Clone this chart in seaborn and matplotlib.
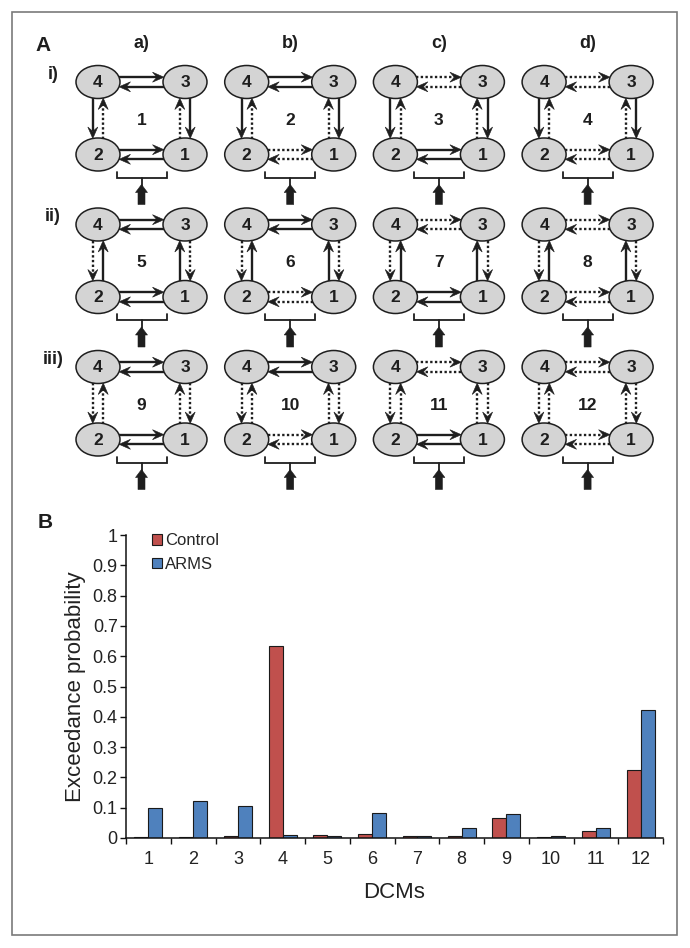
import numpy as np
import pandas as pd
import matplotlib
matplotlib.use('Agg')
import matplotlib.pyplot as plt
from matplotlib.patches import Ellipse, Polygon, Rectangle, Patch
import seaborn as sns

# ---------------- data ----------------
dcm_labels = ['1', '2', '3', '4', '5', '6', '7', '8', '9', '10', '11', '12']
control_ep = [0.003, 0.004, 0.007, 0.634, 0.009, 0.012, 0.008, 0.006, 0.065, 0.002, 0.024, 0.224]
arms_ep = [0.098, 0.123, 0.105, 0.010, 0.006, 0.082, 0.007, 0.034, 0.078, 0.006, 0.033, 0.422]
group_names = ['Control', 'ARMS']
group_colors = ['#C0504D', '#4F81BD']
y_ticks = [0, 0.1, 0.2, 0.3, 0.4, 0.5, 0.6, 0.7, 0.8, 0.9, 1.0]
y_tick_labels = ['0', '0.1', '0.2', '0.3', '0.4', '0.5', '0.6', '0.7', '0.8', '0.9', '1']

column_labels = ['a)', 'b)', 'c)', 'd)']
row_labels = ['i)', 'ii)', 'iii)']
# connection styles of the 12 DCMs: horizontal pairs vary by column, vertical pairs by row
top_pair_style = ['solid', 'solid', 'dotted', 'dotted']        # 4 <-> 3
bottom_pair_style = ['solid', 'dotted', 'solid', 'dotted']     # 2 <-> 1
down_style = ['solid', 'dotted', 'dotted']                     # 4 -> 2, 3 -> 1
up_style = ['dotted', 'solid', 'dotted']                       # 2 -> 4, 1 -> 3

# ---------------- style ----------------
sns.set_style('white')
plt.rcParams['font.family'] = ['Liberation Sans', 'DejaVu Sans']

W, H = 690, 948
fig = plt.figure(figsize=(W / 100, H / 100), dpi=100)

# overlay axes in pixel coordinates for panel A
ov = fig.add_axes([0, 0, 1, 1])
ov.set_xlim(0, W)
ov.set_ylim(H, 0)
ov.axis('off')

ink = '#1e1e1e'
ov.add_patch(Rectangle((12, 12), 665, 923, fill=False, ec='#7a7a7a', lw=1.2))

ov.text(43, 45, 'A', fontsize=15, fontweight='bold', ha='center', va='center', color=ink)
ov.text(45, 522, 'B', fontsize=15, fontweight='bold', ha='center', va='center', color=ink)


def arrow(x0, y0, x1, y1, style, lw=1.7, hl=11.5, hw=5.0):
    d = np.array([x1 - x0, y1 - y0], float)
    L = np.hypot(*d)
    u = d / L
    n = np.array([-u[1], u[0]])
    tip = np.array([x1, y1], float)
    base = tip - u * hl
    notch = tip - u * hl * 0.62
    ls = '-' if style == 'solid' else (0, (1, 1.0))
    ov.plot([x0, notch[0]], [y0, notch[1]], color=ink, lw=lw, ls=ls,
            solid_capstyle='butt', dash_capstyle='butt')
    ov.add_patch(Polygon([tip, base + n * hw, notch, base - n * hw], closed=True,
                         fc=ink, ec=ink, lw=0.4))


col_x = [98 + c * 148.7 for c in range(4)]
row_y = [82 + r * 142.5 for r in range(3)]
dx, dy = 87, 72.5
ew, eh = 44, 33

for c, lab in enumerate(column_labels):
    ov.text(col_x[c] + dx / 2, 43, lab, fontsize=13, fontweight='bold',
            ha='center', va='center', color=ink)
for r, lab in enumerate(row_labels):
    ov.text(53, row_y[r] - 8, lab, fontsize=13, fontweight='bold',
            ha='center', va='center', color=ink)

for r in range(3):
    for c in range(4):
        x4 = col_x[c]
        x3 = x4 + dx
        yt = row_y[r]
        yb = yt + dy
        xm = (x4 + x3) / 2
        # horizontal connections
        off = 4.8
        xe = 21.0
        arrow(x4 + xe, yt - off, x3 - xe, yt - off, top_pair_style[c])
        arrow(x3 - xe, yt + off, x4 + xe, yt + off, top_pair_style[c])
        arrow(x4 + xe, yb - off, x3 - xe, yb - off, bottom_pair_style[c])
        arrow(x3 - xe, yb + off, x4 + xe, yb + off, bottom_pair_style[c])
        # vertical connections
        voff = 5.2
        ye = 16.0
        arrow(x4 - voff, yt + ye, x4 - voff, yb - ye, down_style[r])
        arrow(x4 + voff, yb - ye, x4 + voff, yt + ye, up_style[r])
        arrow(x3 + voff, yt + ye, x3 + voff, yb - ye, down_style[r])
        arrow(x3 - voff, yb - ye, x3 - voff, yt + ye, up_style[r])
        # nodes
        for (nx, ny, name) in [(x4, yt, '4'), (x3, yt, '3'), (x4, yb, '2'), (x3, yb, '1')]:
            ov.add_patch(Ellipse((nx, ny), ew, eh, fc='#d4d4d4', ec=ink, lw=1.1, zorder=3))
            ov.text(nx, ny + 0.5, name, fontsize=12.5, fontweight='bold', ha='center',
                    va='center', color=ink, zorder=4)
        ov.text(xm, (yt + yb) / 2 + 2, str(r * 4 + c + 1), fontsize=12.5, fontweight='bold',
                ha='center', va='center', color=ink)
        # input bracket and thick arrow
        ybr = yb + 23
        ov.plot([xm - 25, xm - 25, xm + 25, xm + 25], [ybr - 6, ybr, ybr, ybr - 6],
                color=ink, lw=1.3, solid_joinstyle='miter')
        ov.plot([xm, xm], [ybr, ybr + 8], color=ink, lw=1.3)
        ov.add_patch(Polygon([(xm, ybr + 7), (xm + 6, ybr + 15), (xm + 3.5, ybr + 15),
                              (xm + 3.5, ybr + 27), (xm - 3.5, ybr + 27), (xm - 3.5, ybr + 15),
                              (xm - 6, ybr + 15)], closed=True, fc=ink, ec=ink, lw=0.4))

# ---------------- panel B: bar chart ----------------
df = pd.DataFrame({
    'DCM': dcm_labels * 2,
    'group': [group_names[0]] * len(dcm_labels) + [group_names[1]] * len(dcm_labels),
    'value': control_ep + arms_ep,
})

x0p, x1p, y0p, y1p = 126, 663, 838, 535
ax = fig.add_axes([x0p / W, (H - y0p) / H, (x1p - x0p) / W, (y0p - y1p) / H])
ax.set_facecolor('none')
sns.barplot(data=df, x='DCM', y='value', hue='group', order=dcm_labels,
            hue_order=group_names, palette=group_colors, saturation=1, width=0.63, gap=0,
            errorbar=None, edgecolor='#1a1a1a', linewidth=0.8, ax=ax)

ax.set_xlim(-0.5, 11.5)
ax.set_ylim(0, 1)
ax.set_yticks(y_ticks, y_tick_labels)
ax.set_xticks(range(len(dcm_labels)), dcm_labels)
ax.set_xticks(np.arange(-0.5, len(dcm_labels), 1), minor=True)
ax.tick_params(axis='x', which='major', length=0, pad=9.5, labelsize=13, colors='#222')
ax.tick_params(axis='x', which='minor', length=4, width=1.0, direction='out', color='#111', bottom=True)
ax.tick_params(axis='y', which='major', length=4, width=1.0, direction='out', pad=2,
               labelsize=13, left=True, color='#111', labelcolor='#222')
for s in ['top', 'right']:
    ax.spines[s].set_visible(False)
for s in ['left', 'bottom']:
    ax.spines[s].set_color('#111')
    ax.spines[s].set_linewidth(1.1)
ax.set_xlabel('DCMs', fontsize=16, labelpad=10, color='#222')
ax.set_ylabel('Exceedance probability', fontsize=16, labelpad=5, color='#222')

handles = [Patch(fc=group_colors[i], ec='#1a1a1a', lw=0.8) for i in range(2)]
ax.legend(handles, group_names, loc='upper left', bbox_to_anchor=(0.048, 1.005),
          frameon=False, fontsize=12, handlelength=0.6, handleheight=0.6,
          handletextpad=0.2, labelspacing=0.5, borderpad=0, borderaxespad=0)

fig.savefig('out.png', dpi=100)
